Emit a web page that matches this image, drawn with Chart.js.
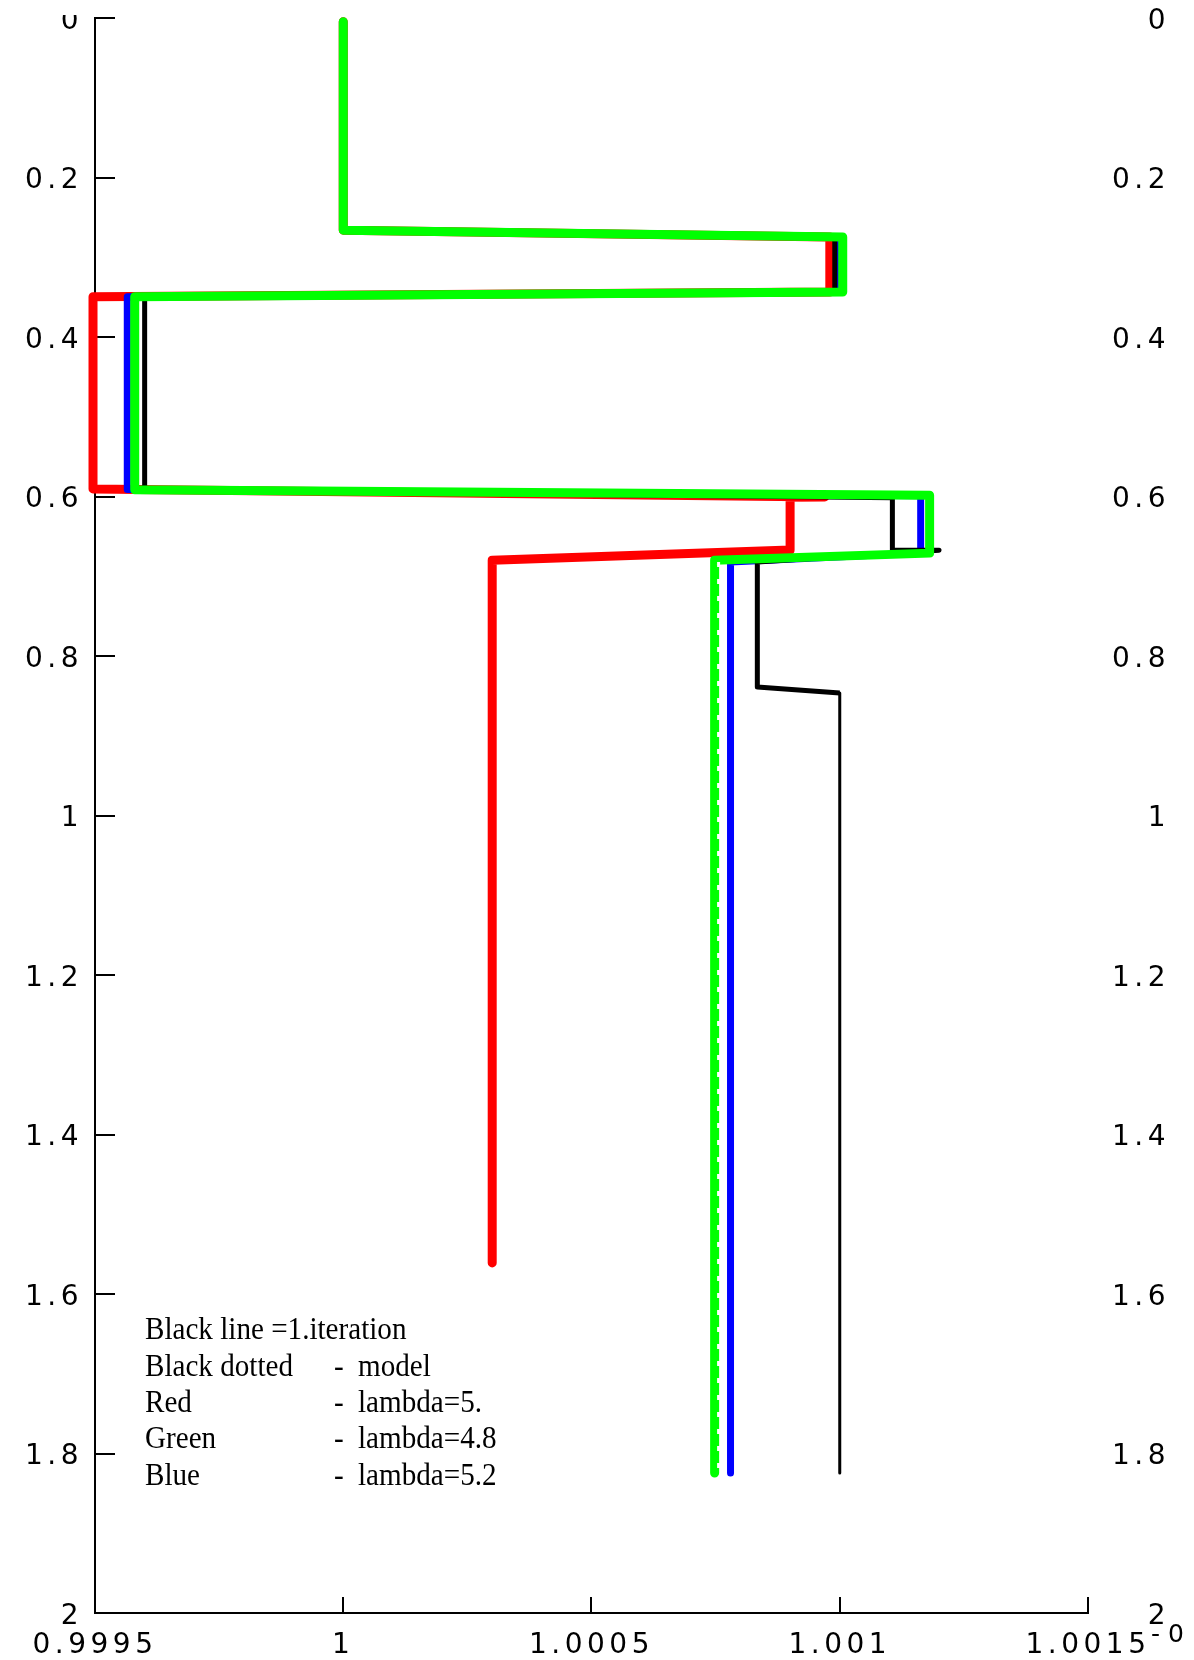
<!DOCTYPE html>
<html>
<head>
<meta charset="utf-8">
<script src="https://cdn.jsdelivr.net/npm/chart.js@4.4.1/dist/chart.umd.min.js"></script>
<style>
html,body{margin:0;padding:0;background:#fff;}
canvas{display:block;}
</style>
</head>
<body>
<canvas id="c" width="1194" height="1660"></canvas>
<script>
// ---- tick labels ----
const xTickValues = [0.9995, 1.0, 1.0005, 1.001, 1.0015];
const xTickLabels = ['0.9995', '1', '1.0005', '1.001', '1.0015'];
const yTickValues = [0, 0.2, 0.4, 0.6, 0.8, 1.0, 1.2, 1.4, 1.6, 1.8, 2.0];
const yTickLabels = ['0', '0.2', '0.4', '0.6', '0.8', '1', '1.2', '1.4', '1.6', '1.8', '2'];

// ---- series (value on x, depth on y) ----
const greenValue = [1.0, 1.0, 1.001006, 1.001006, 0.99958, 0.99958, 1.001181, 1.001181, 1.000748, 1.000748];
const greenDepth = [0.0046, 0.266, 0.2746, 0.3436, 0.3495, 0.5915, 0.5985, 0.671, 0.68, 1.8245];

const redValue = [1.0, 1.0, 1.00098, 1.00098, 0.999496, 0.999496, 1.00097, 1.0009, 1.0009, 1.0003, 1.0003];
const redDepth = [0.0046, 0.266, 0.2746, 0.3436, 0.3495, 0.5905, 0.6005, 0.601, 0.667, 0.68, 1.561];

const blueValue = [1.0, 1.0, 1.000995, 1.000995, 0.999565, 0.999565, 1.001163, 1.001163, 1.00078, 1.00078];
const blueDepth = [0.0046, 0.266, 0.2746, 0.3436, 0.3495, 0.5912, 0.599, 0.671, 0.682, 1.8245];

const blackValue = [1.0, 1.0, 1.00099, 1.00099, 0.9996, 0.9996, 1.001106, 1.001106, 1.0012, 1.000834, 1.000834, 1.0010, 1.0010];
const blackDepth = [0.0046, 0.266, 0.2746, 0.3436, 0.3495, 0.5915, 0.6015, 0.667, 0.6675, 0.682, 0.839, 0.8465, 1.8245];

const modelValue = [1.000756, 1.000756];
const modelDepth = [0.682, 1.8245];

// ---- legend text ----
const legendLeft = ['Black line =1.iteration', 'Black dotted', 'Red', 'Green', 'Blue'];
const legendRight = ['', 'model', 'lambda=5.', 'lambda=4.8', 'lambda=5.2'];

const toPts = (xs, ds) => xs.map((v, i) => ({x: v, y: ds[i]}));

const tickFont = {family: 'DejaVu Sans', size: 28};

function condensedText(c, txt, x, y, sx) {
  c.save();
  c.translate(x, y);
  c.scale(sx, 1);
  c.fillText(txt, 0, 0);
  c.restore();
}

const decor = {
  id: 'decor',
  beforeDraw(chart) {
    const c = chart.ctx;
    c.save();
    c.fillStyle = '#ffffff';
    c.fillRect(0, 0, chart.width, chart.height);
    c.restore();
    c.letterSpacing = '4.5px';
  },
  afterDraw(chart) {
    const c = chart.ctx;
    c.save();
    c.letterSpacing = '0px';
    // the reference crops the top of the first left label
    c.fillStyle = '#ffffff';
    c.fillRect(0, 0, 90, 15);
    // legend text block
    c.fillStyle = '#000000';
    c.font = '32px "Liberation Serif"';
    c.textBaseline = 'middle';
    c.textAlign = 'left';
    for (let i = 0; i < legendLeft.length; i++) {
      const y = 1331 + i * 36.3;
      condensedText(c, legendLeft[i], 145, y, 0.91);
      if (legendRight[i]) {
        condensedText(c, '-', 334, y, 0.91);
        condensedText(c, legendRight[i], 358, y, 0.91);
      }
    }
    // clipped exponent text next to last x label
    c.letterSpacing = '8px';
    c.font = '25px "DejaVu Sans"';
    c.textBaseline = 'alphabetic';
    c.fillText('-0', 1151, 1642);
    c.restore();
  }
};

new Chart(document.getElementById('c'), {
  type: 'line',
  data: {
    datasets: [
      {label: 'Black dotted - model', data: toPts(modelValue, modelDepth), borderColor: '#ffffff', borderWidth: 3, borderDash: [5, 12], order: 0},
      {label: 'Green - lambda=4.8', data: toPts(greenValue, greenDepth), borderColor: '#00ff00', borderWidth: 9, order: 1},
      {label: 'Black line =1.iteration', data: toPts(blackValue, blackDepth), borderColor: '#000000', borderWidth: 5,
        segment: {borderWidth: ctx => (ctx.p0.parsed.y >= 0.84 ? 3 : 5)}, order: 2},
      {label: 'Blue - lambda=5.2', data: toPts(blueValue, blueDepth), borderColor: '#0000ff', borderWidth: 7, order: 3},
      {label: 'Red - lambda=5.', data: toPts(redValue, redDepth), borderColor: '#ff0000', borderWidth: 9, order: 4}
    ]
  },
  options: {
    responsive: false,
    animation: false,
    devicePixelRatio: 1,
    layout: {padding: {left: 0, right: 24, top: 18, bottom: 0}},
    elements: {
      point: {radius: 0, hoverRadius: 0},
      line: {tension: 0, borderJoinStyle: 'round', borderCapStyle: 'butt', fill: false}
    },
    datasets: {line: {clip: 12}},
    plugins: {legend: {display: false}, tooltip: {enabled: false}},
    scales: {
      x: {
        type: 'linear', position: 'bottom', min: 0.9995, max: 1.0015,
        afterBuildTicks: s => { s.ticks = xTickValues.map(v => ({value: v})); },
        afterFit: s => { s.height = 47; },
        ticks: {callback: (v, i) => xTickLabels[i], font: tickFont, color: '#000', padding: 32, maxRotation: 0, minRotation: 0, autoSkip: false},
        grid: {drawOnChartArea: false, drawTicks: true, tickLength: -16, color: '#000', lineWidth: 2},
        border: {display: true, color: '#000', width: 2}
      },
      y: {
        type: 'linear', position: 'left', reverse: true, min: 0, max: 2,
        afterBuildTicks: s => { s.ticks = yTickValues.map(v => ({value: v})); },
        afterFit: s => { s.width = 95; s.paddingTop = 0; s.paddingBottom = 0; },
        ticks: {callback: (v, i) => yTickLabels[i], font: tickFont, color: '#000', padding: 32, labelOffset: 3.5, autoSkip: false},
        grid: {drawOnChartArea: false, drawTicks: true, tickLength: -20, color: '#000', lineWidth: 2},
        border: {display: true, color: '#000', width: 2}
      },
      y2: {
        type: 'linear', position: 'right', reverse: true, min: 0, max: 2,
        afterBuildTicks: s => { s.ticks = yTickValues.map(v => ({value: v})); },
        afterFit: s => { s.width = 82; s.paddingTop = 0; s.paddingBottom = 0; },
        ticks: {callback: (v, i) => yTickLabels[i], font: tickFont, color: '#000', crossAlign: 'far', labelOffset: 3.5, autoSkip: false},
        grid: {display: false, drawTicks: false, drawOnChartArea: false},
        border: {display: false}
      }
    }
  },
  plugins: [decor]
});
</script>
</body>
</html>
